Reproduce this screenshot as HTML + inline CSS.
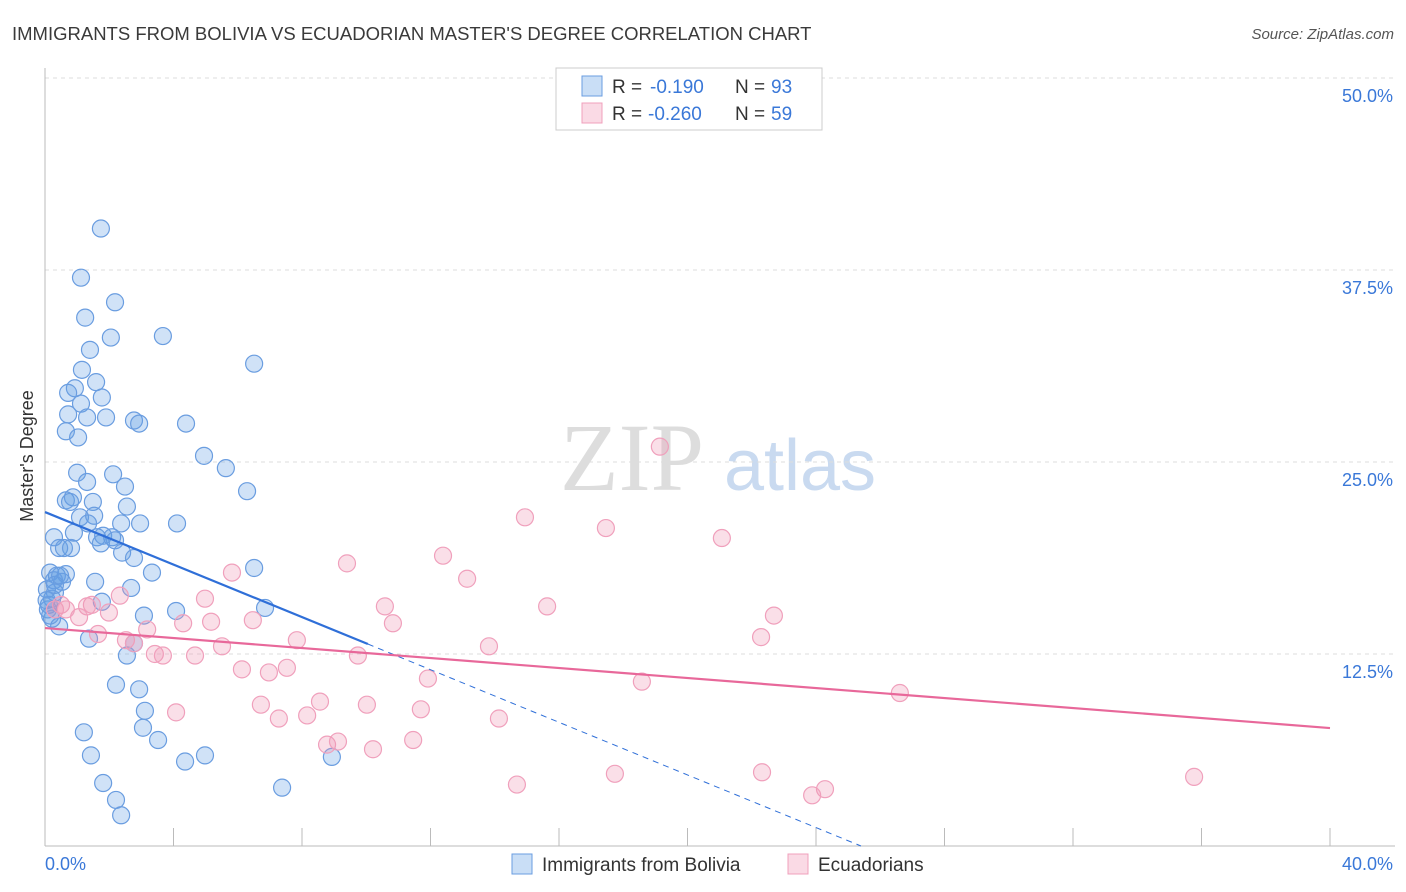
<!DOCTYPE html>
<html><head><meta charset="utf-8"><style>
body{margin:0;background:#fff;font-family:"Liberation Sans",sans-serif}
svg{display:block}
</style></head><body>
<svg id="chart" width="1406" height="892" font-family="Liberation Sans, sans-serif">
<text x="12" y="40" font-size="18.5" fill="#3a3a3a">IMMIGRANTS FROM BOLIVIA VS ECUADORIAN MASTER'S DEGREE CORRELATION CHART</text>
<text x="1394" y="39" font-size="15" font-style="italic" fill="#555" text-anchor="end">Source: ZipAtlas.com</text>
<g>
<text x="632" y="490" font-size="96" font-family="Liberation Serif, serif" fill="#ddd" text-anchor="middle">ZIP</text>
<text x="800" y="490" font-size="72" fill="#c9daf0" text-anchor="middle">atlas</text>
</g>
<g id="grid"></g>
<g id="axes"></g>
<g id="marks"></g>
<g id="lines"></g>
<text x="33" y="456" font-size="18" fill="#333" text-anchor="middle" transform="rotate(-90 33 456)">Master's Degree</text>
<g>
<rect x="556" y="68" width="266" height="62" fill="#fff" stroke="#ccc"/>
<rect x="582" y="76" width="20" height="20" fill="rgba(100,160,230,0.35)" stroke="#6a9de0"/>
<text x="612" y="93" font-size="19" fill="#333">R = </text><text x="650" y="93" font-size="19" fill="#3a78d8">-0.190</text>
<text x="735" y="93" font-size="19" fill="#333">N = </text><text x="771" y="93" font-size="19" fill="#3a78d8">93</text>
<rect x="582" y="103" width="20" height="20" fill="rgba(240,150,180,0.35)" stroke="#f0a0bc"/>
<text x="612" y="120" font-size="19" fill="#333">R = </text><text x="648" y="120" font-size="19" fill="#3a78d8">-0.260</text>
<text x="735" y="120" font-size="19" fill="#333">N = </text><text x="771" y="120" font-size="19" fill="#3a78d8">59</text>
</g>
<g>
<rect x="512" y="854" width="20" height="20" fill="rgba(100,160,230,0.35)" stroke="#6a9de0"/>
<text x="542" y="871" font-size="19" fill="#333">Immigrants from Bolivia</text>
<rect x="788" y="854" width="20" height="20" fill="rgba(240,150,180,0.35)" stroke="#f0a0bc"/>
<text x="818" y="871" font-size="19" fill="#333">Ecuadorians</text>
</g>
</svg>
<script>
const yTicks=[12.5,25,37.5,50];
const yTickLabels=["12.5%","25.0%","37.5%","50.0%"];
const xTicks=[0,4,8,12,16,20,24,28,32,36,40];
const boliviaX=[1.74,1.12,2.18,1.25,2.05,3.67,1.40,6.51,1.15,1.59,0.93,0.72,1.77,1.12,0.72,1.31,1.90,2.77,2.93,4.39,0.65,1.03,4.95,5.63,1.00,2.12,1.31,2.49,6.29,0.65,0.87,0.78,1.49,2.55,1.09,1.53,4.11,2.37,2.96,1.34,0.28,0.90,1.62,1.81,2.09,2.18,1.74,0.44,0.81,0.59,2.40,2.77,3.33,6.51,0.16,0.37,0.65,0.28,0.53,1.56,2.68,0.31,0.22,1.77,0.12,4.08,3.08,6.85,0.44,0.22,1.37,2.77,2.55,2.21,2.93,3.11,1.21,3.05,3.52,1.43,4.98,4.36,8.93,1.81,7.38,2.21,2.37,0.09,0.16,0.06,0.31,0.47,0.05];
const boliviaY=[40.2,37.0,35.4,34.4,33.1,33.2,32.3,31.4,31.0,30.2,29.8,29.5,29.2,28.8,28.1,27.9,27.9,27.7,27.5,27.5,27.0,26.6,25.4,24.6,24.3,24.2,23.7,23.4,23.1,22.5,22.7,22.4,22.4,22.1,21.4,21.5,21.0,21.0,21.0,21.0,20.1,20.4,20.1,20.2,20.1,19.9,19.7,19.4,19.4,19.4,19.1,18.75,17.8,18.1,17.8,17.6,17.7,17.3,17.2,17.2,16.8,16.5,16.1,15.9,15.7,15.3,15.0,15.5,14.3,14.8,13.5,13.2,12.4,10.5,10.2,8.8,7.4,7.7,6.9,5.9,5.9,5.5,5.8,4.1,3.8,3.0,2.0,15.4,15.0,16.7,17.0,17.6,16.0];
const ecuadorX=[19.14,14.94,17.46,21.07,12.39,9.40,13.14,5.82,2.33,1.46,0.50,0.31,1.31,1.99,4.98,1.06,10.58,15.63,22.69,6.47,5.17,4.30,10.83,3.18,1.65,2.52,7.84,2.77,13.82,5.51,9.74,3.42,3.67,4.67,22.29,6.13,7.53,6.97,11.92,18.58,26.61,8.56,6.72,10.02,4.08,8.16,7.28,11.70,14.13,8.78,9.12,11.46,10.21,14.69,17.74,22.32,24.28,23.88,35.77,0.65];
const ecuadorY=[26.0,21.4,20.7,20.05,18.9,18.4,17.4,17.8,16.3,15.7,15.7,15.4,15.6,15.2,16.1,14.9,15.6,15.6,15.0,14.7,14.6,14.5,14.5,14.1,13.8,13.4,13.4,13.2,13.0,13.0,12.4,12.5,12.4,12.4,13.6,11.5,11.6,11.3,10.9,10.7,9.96,9.4,9.2,9.2,8.7,8.5,8.3,8.9,8.3,6.6,6.8,6.9,6.3,4.0,4.7,4.8,3.7,3.3,4.5,15.4];
const boliviaTrend=[21.74,13.15,10.05,25.4];
const ecuadorTrend=[14.19,7.68];
const NS="http://www.w3.org/2000/svg";
const X=v=>45+v/40*1285, Y=v=>846-v/50*768;
function mk(tag,attrs,parent){const e=document.createElementNS(NS,tag);for(const k in attrs)e.setAttribute(k,attrs[k]);document.getElementById(parent).appendChild(e);return e;}
yTicks.forEach((t,i)=>{
 const g=mk('line',{x1:45,x2:1395,y1:Y(t),y2:Y(t),stroke:'#ddd','stroke-dasharray':'4 4'},'grid');
 
 
 const l=mk('text',{x:1393,y:Y(t)+24,'font-size':18,fill:'#3a78d8','text-anchor':'end'},'grid');
 l.textContent=yTickLabels[i];
 
 
});
const ax=mk('line',{x1:45,x2:45,y1:68,y2:846,stroke:'#bbb'},'axes');


const bx=mk('line',{x1:45,x2:1395,y1:846,y2:846,stroke:'#bbb'},'axes');


xTicks.forEach(t=>{
 const k=mk('line',{x1:X(t),x2:X(t),y1:828,y2:846,stroke:'#bbb'},'axes');
 
 
});
const x0=mk('text',{x:45,y:870,'font-size':18,fill:'#3a78d8'},'axes');x0.textContent=xTicks[0].toFixed(1)+'%';


const x1=mk('text',{x:1393,y:870,'font-size':18,fill:'#3a78d8','text-anchor':'end'},'axes');x1.textContent=xTicks[xTicks.length-1].toFixed(1)+'%';


boliviaX.forEach((v,i)=>{
 const c=mk('circle',{cx:X(v),cy:Y(boliviaY[i]),r:8.5,fill:'rgba(100,160,230,0.3)',stroke:'#6a9de0','stroke-width':1.2},'marks');
 
 
});
ecuadorX.forEach((v,i)=>{
 const c=mk('circle',{cx:X(v),cy:Y(ecuadorY[i]),r:8.5,fill:'rgba(240,150,180,0.3)',stroke:'#f0a0bc','stroke-width':1.2},'marks');
 
 
});
const bl=mk('line',{x1:X(0),y1:Y(boliviaTrend[0]),x2:X(boliviaTrend[2]),y2:Y(boliviaTrend[1]),stroke:'#2f6fd8','stroke-width':2.2},'lines');


const bd=mk('line',{x1:X(boliviaTrend[2]),y1:Y(boliviaTrend[1]),x2:X(boliviaTrend[3]),y2:Y(0),stroke:'#2f6fd8','stroke-width':1,'stroke-dasharray':'6 5'},'lines');


const pl=mk('line',{x1:X(0),y1:Y(ecuadorTrend[0]),x2:X(40),y2:Y(ecuadorTrend[1]),stroke:'#e8689a','stroke-width':2.2},'lines');


</script>
</body></html>
